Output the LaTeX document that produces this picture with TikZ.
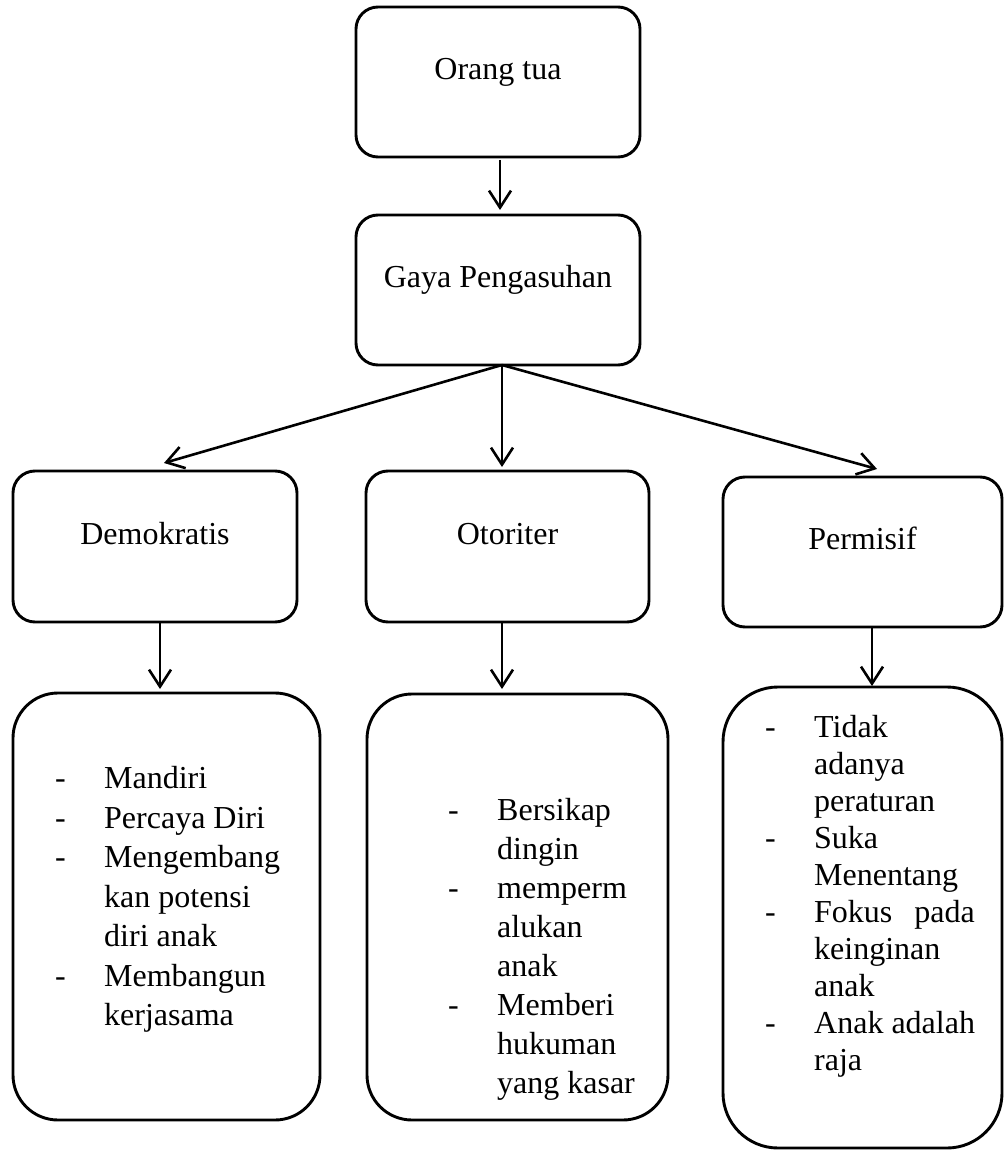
\documentclass[tikz,border=0pt]{standalone}
\usepackage{fontspec}
\setmainfont{Liberation Serif}
\usepackage{tikz}
\usetikzlibrary{arrows.meta,positioning}
\tikzstyle{kotak}=[rectangle,rounded corners=22pt,draw,line width=2.9pt,
  minimum width=284pt,minimum height=150pt,text height=22pt,text depth=27pt,
  outer sep=0pt,font=\fontsize{32}{39.5}\selectfont]
\tikzstyle{daftar}=[rectangle,rounded corners=45pt,draw,line width=2.9pt,
  outer sep=0pt]
\tikzstyle{isi}=[inner sep=0pt,align=left,font=\fontsize{32}{39.5}\selectfont]
\tikzstyle{panah}=[-{Straight Barb[length=17pt,width=22pt]},line width=2.6pt]
\newcommand{\butir}{\makebox[49pt][l]{-}}
\newcommand{\lanjut}{\makebox[49pt]{}}

\begin{document}
\begin{tikzpicture}[x=1pt,y=1pt]
  \useasboundingbox (0,0) rectangle (1004,-1150);

  % Baris atas
  \node[kotak] (ortu) at (498,-82) {Orang tua};
  \node[kotak, below=58pt of ortu] (gaya) {Gaya Pengasuhan};

  % Tiga gaya
  \node[kotak, below=106pt of gaya, xshift=9.5pt, minimum width=283pt, minimum height=151pt] (oto) {Otoriter};
  \node[kotak, left=69pt of oto, minimum height=151pt] (demo) {Demokratis};
  \node[kotak, right=74pt of oto, yshift=-5.5pt, minimum width=279pt] (perm) {Permisif};

  % Kotak ciri
  \node[daftar, below=71pt of demo, xshift=11.5pt, minimum width=307pt, minimum height=427pt] (demoList) {};
  \node[daftar, below=72pt of oto, xshift=10pt, minimum width=301pt, minimum height=426pt] (otoList) {};
  \node[daftar, below=60pt of perm, rounded corners=55pt, minimum width=279pt, minimum height=461pt] (permList) {};

  \node[isi, below right=73.5pt and 42pt of demoList.north west] (demoIsi)
    {\butir Mandiri\\\butir Percaya Diri\\\butir Mengembang\\\lanjut kan potensi\\
     \lanjut diri anak\\\butir Membangun\\\lanjut kerjasama};
  \node[isi, below right=104.5pt and 81pt of otoList.north west, font=\fontsize{32}{39}\selectfont] (otoIsi)
    {\butir Bersikap\\\lanjut dingin\\\butir memperm\\\lanjut alukan\\\lanjut anak\\
     \butir Memberi\\\lanjut hukuman\\\lanjut yang kasar};
  \node[isi, below right=28.5pt and 42pt of permList.north west, font=\fontsize{32}{37}\selectfont] (permIsi)
    {\butir Tidak\\\lanjut adanya\\\lanjut peraturan\\\butir Suka\\\lanjut Menentang\\
     \butir Fokus\hspace{22pt}pada\\\lanjut keinginan\\\lanjut anak\\\butir Anak adalah\\\lanjut raja};

  % Panah
  \draw[panah, shorten <=3pt, shorten >=5pt] ([xshift=2pt]ortu.south) -- ([xshift=2pt]gaya.north);
  \draw[panah] ([xshift=4pt]gaya.south) -- ([xshift=9pt,yshift=8pt]demo.north);
  \draw[panah, shorten >=4pt] ([xshift=4pt]gaya.south) -- ([xshift=4pt]gaya.south |- oto.north);
  \draw[panah] ([xshift=4pt]gaya.south) -- ([xshift=14.5pt,yshift=8pt]perm.north);
  \draw[panah, shorten >=4pt] ([xshift=5pt]demo.south) -- ([xshift=5pt]demo.south |- demoList.north);
  \draw[panah, shorten >=5pt] ([xshift=-5.5pt]oto.south) -- ([xshift=-5.5pt]oto.south |- otoList.north);
  \draw[panah, shorten >=1pt] ([xshift=9.5pt]perm.south) -- ([xshift=9.5pt]perm.south |- permList.north);

\end{tikzpicture}
\end{document}
